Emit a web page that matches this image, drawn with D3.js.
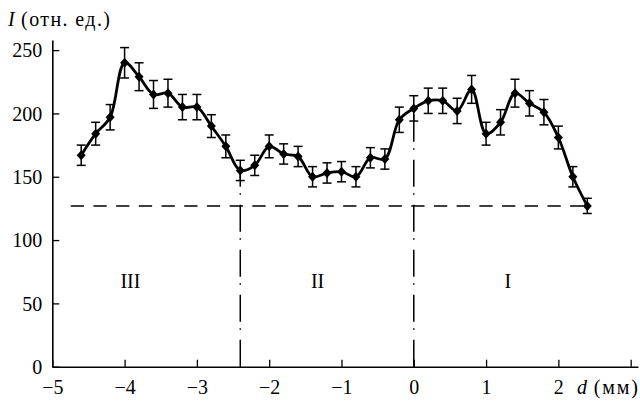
<!DOCTYPE html>
<html>
<head>
<meta charset="utf-8">
<script src="https://cdn.jsdelivr.net/npm/d3@7"></script>
<style>
  body { margin: 0; background: #fff; }
  svg text { font-family: "Liberation Serif", "Times New Roman", "DejaVu Serif", serif !important; fill: #000; }
</style>
</head>
<body>
<svg id="chart" width="640" height="401"></svg>
<script>
// distance from the boundary, mm
const dist = [-4.6, -4.4, -4.2, -4.0, -3.8, -3.6, -3.4, -3.2, -3.0, -2.8, -2.6, -2.4,
              -2.2, -2.0, -1.8, -1.6, -1.4, -1.2, -1.0, -0.8, -0.6, -0.4, -0.2, 0.0,
              0.2, 0.4, 0.6, 0.8, 1.0, 1.2, 1.4, 1.6, 1.8, 2.0, 2.2, 2.4]
// intensity, rel. units
const intensity = [167, 184, 197, 240, 229, 215, 216, 205, 205, 190, 174, 155,
                   159, 174, 168, 166, 150, 153, 154, 150, 165, 164, 195, 204,
                   210, 210, 202, 219, 184, 193, 216, 208, 201, 181, 150, 127]
const errors = [8, 9, 10, 12, 11, 11, 11, 10, 10, 9, 9, 8,
                8, 9, 8, 8, 8, 8, 8, 8, 8, 8, 10, 10,
                10, 10, 10, 11, 9, 10, 11, 10, 10, 9, 8, 6]
const xTicks = [-5, -4, -3, -2, -1, 0, 1, 2, 3]
const yTicks = [0, 50, 100, 150, 200, 250]
const baseLevel = 127          // horizontal dashed level
const bounds = [-2.4, 0]       // zone boundaries
const zones = [
  {name: "III", d: -3.92},
  {name: "II", d: -1.33},
  {name: "I", d: 1.3}
]
const zoneLevel = 68

const svg = d3.select("#chart")
const fontSize = 20
const serif = "'Liberation Serif', 'Times New Roman', 'DejaVu Serif', serif"

const x = d3.scaleLinear().domain([-5, 3.1]).range([52.3, 637.9])
const y = d3.scaleLinear().domain([0, 258]).range([366.7, 40])

// axes
const xAxis = d3.axisBottom(x)
  .tickValues(xTicks)
  .tickSizeInner(-7)
  .tickSizeOuter(0)
  .tickPadding(14)
  .tickFormat(d => d === 3 ? "" : d3.format("d")(d))
const gx = svg.append("g").attr("transform", `translate(0,${y(0)})`).call(xAxis)

const yAxis = d3.axisLeft(y)
  .tickValues(yTicks)
  .tickSizeInner(-7)
  .tickSizeOuter(0)
  .tickPadding(10)
const gy = svg.append("g").attr("transform", `translate(${x(-5)},0)`).call(yAxis)

;[gx, gy].forEach(g => {
  g.attr("font-family", null).attr("font-size", null)
  g.selectAll("path.domain").attr("stroke", "#000").attr("stroke-width", 1.6)
  g.selectAll(".tick line").attr("stroke", "#000").attr("stroke-width", 1.3)
  g.selectAll("text").style("font-size", fontSize + "px").style("font-family", serif)
})
gy.selectAll("text").attr("dy", "0.34em")
gx.selectAll("text").attr("dy", "0.68em")

// axis titles
const yTitle = svg.append("text").attr("x", 8).attr("y", 26)
  .style("font-size", fontSize + "px").style("font-family", serif)
yTitle.append("tspan").attr("font-style", "italic").text("I")
yTitle.append("tspan").style("letter-spacing", "1.4px").text(" (отн. ед.)")

const xTitle = svg.append("text").attr("x", 577).attr("y", 394)
  .style("font-size", fontSize + "px").style("font-family", serif)
xTitle.append("tspan").attr("font-style", "italic").text("d")
xTitle.append("tspan").style("letter-spacing", "1.8px").text(" (мм)")

// horizontal dashed level
svg.append("line")
  .attr("x1", x(-4.745)).attr("x2", x(2.45))
  .attr("y1", y(baseLevel)).attr("y2", y(baseLevel))
  .attr("stroke", "#000").attr("stroke-width", 1.5)
  .attr("stroke-dasharray", "13.3,9.4")

// dash-dot zone boundaries, drawn from axis upwards to the data point
bounds.forEach(b => {
  const i = dist.findIndex(v => Math.abs(v - b) < 1e-6)
  svg.append("line")
    .attr("x1", x(b)).attr("x2", x(b))
    .attr("y1", y(0)).attr("y2", y(intensity[i]))
    .attr("stroke", "#000").attr("stroke-width", 1.5)
    .attr("stroke-dasharray", "27,10,1.5,6.5")
})

// zone labels
svg.selectAll("text.zone").data(zones).join("text")
  .attr("class", "zone")
  .attr("x", d => x(d.d)).attr("y", y(zoneLevel))
  .attr("text-anchor", "middle").attr("dy", "0.35em")
  .style("font-size", fontSize + "px").style("font-family", serif)
  .text(d => d.name)

const pts = dist.map((d, i) => ({d, v: intensity[i], e: errors[i]}))

// error bars
const eb = svg.append("g").attr("stroke", "#000").attr("stroke-width", 1.5)
pts.forEach(p => {
  const cx = x(p.d), top = y(p.v + p.e), bot = y(p.v - p.e)
  eb.append("line").attr("x1", cx).attr("x2", cx).attr("y1", top).attr("y2", bot)
  eb.append("line").attr("x1", cx - 4.5).attr("x2", cx + 4.5).attr("y1", top).attr("y2", top)
  eb.append("line").attr("x1", cx - 4.5).attr("x2", cx + 4.5).attr("y1", bot).attr("y2", bot)
})

// smooth curve
const line = d3.line()
  .x(p => x(p.d)).y(p => y(p.v))
  .curve(d3.curveCatmullRom.alpha(0.5))
svg.append("path").datum(pts)
  .attr("d", line)
  .attr("fill", "none").attr("stroke", "#000").attr("stroke-width", 2.8)
  .attr("stroke-linejoin", "round")

// diamond markers
svg.selectAll("path.mark").data(pts).join("path")
  .attr("class", "mark")
  .attr("d", p => {
    const cx = x(p.d), cy = y(p.v)
    return `M${cx},${cy - 5}L${cx + 4.5},${cy}L${cx},${cy + 5}L${cx - 4.5},${cy}Z`
  })
  .attr("fill", "#000")
</script>
</body>
</html>
